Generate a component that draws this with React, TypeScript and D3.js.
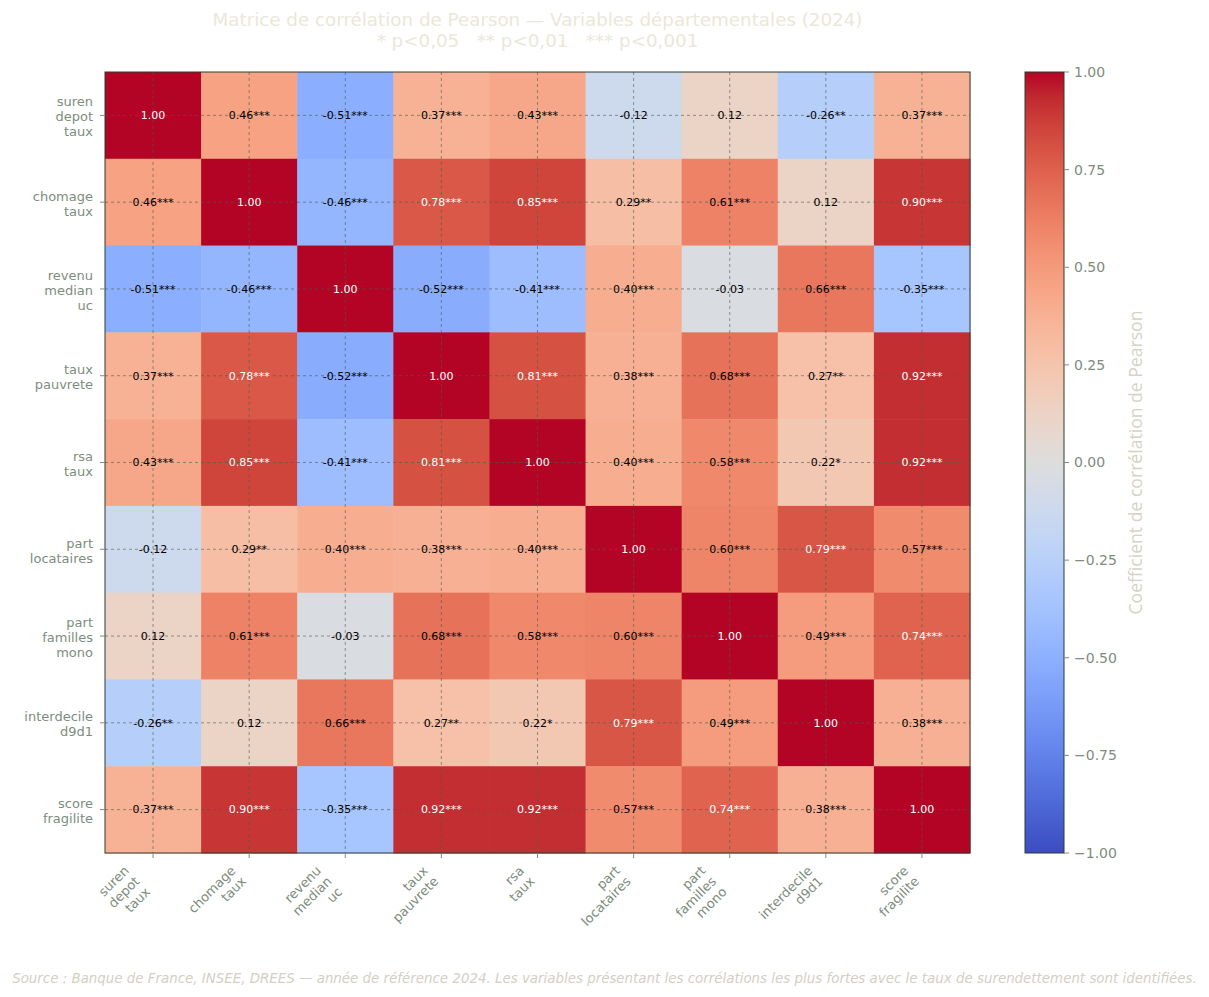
import React from "react";
import * as d3 from "d3";

const variables = [
  "suren\ndepot\ntaux",
  "chomage\ntaux",
  "revenu\nmedian\nuc",
  "taux\npauvrete",
  "rsa\ntaux",
  "part\nlocataires",
  "part\nfamilles\nmono",
  "interdecile\nd9d1",
  "score\nfragilite",
];

const corrValues: number[][] = [
  [1.0, 0.46, -0.51, 0.37, 0.43, -0.12, 0.12, -0.26, 0.37],
  [0.46, 1.0, -0.46, 0.78, 0.85, 0.29, 0.61, 0.12, 0.9],
  [-0.51, -0.46, 1.0, -0.52, -0.41, 0.4, -0.03, 0.66, -0.35],
  [0.37, 0.78, -0.52, 1.0, 0.81, 0.38, 0.68, 0.27, 0.92],
  [0.43, 0.85, -0.41, 0.81, 1.0, 0.4, 0.58, 0.22, 0.92],
  [-0.12, 0.29, 0.4, 0.38, 0.4, 1.0, 0.6, 0.79, 0.57],
  [0.12, 0.61, -0.03, 0.68, 0.58, 0.6, 1.0, 0.49, 0.74],
  [-0.26, 0.12, 0.66, 0.27, 0.22, 0.79, 0.49, 1.0, 0.38],
  [0.37, 0.9, -0.35, 0.92, 0.92, 0.57, 0.74, 0.38, 1.0],
];

const significance: string[][] = [
  ["", "***", "***", "***", "***", "", "", "**", "***"],
  ["***", "", "***", "***", "***", "**", "***", "", "***"],
  ["***", "***", "", "***", "***", "***", "", "***", "***"],
  ["***", "***", "***", "", "***", "***", "***", "**", "***"],
  ["***", "***", "***", "***", "", "***", "***", "*", "***"],
  ["", "**", "***", "***", "***", "", "***", "***", "***"],
  ["", "***", "", "***", "***", "***", "", "***", "***"],
  ["**", "", "***", "**", "*", "***", "***", "", "***"],
  ["***", "***", "***", "***", "***", "***", "***", "***", ""],
];

const colorbarTicks = [-1, -0.75, -0.5, -0.25, 0, 0.25, 0.5, 0.75, 1];

const titleLines = [
  "Matrice de corrélation de Pearson — Variables départementales (2024)",
  "* p<0,05   ** p<0,01   *** p<0,001",
];
const colorbarLabel = "Coefficient de corrélation de Pearson";
const footer =
  "Source : Banque de France, INSEE, DREES — année de référence 2024. Les variables présentant les corrélations les plus fortes avec le taux de surendettement sont identifiées.";

// Moreland coolwarm table (matplotlib coolwarm)
const coolwarmStops: [number, number, number][] = [
  [59, 76, 192], [68, 90, 204], [77, 104, 215], [87, 117, 225], [98, 130, 234],
  [108, 142, 241], [119, 154, 247], [130, 165, 251], [141, 176, 254], [152, 185, 255],
  [163, 194, 255], [174, 201, 253], [184, 208, 249], [194, 213, 244], [204, 217, 238],
  [213, 219, 230], [221, 221, 221], [229, 216, 209], [236, 211, 197], [241, 204, 184],
  [245, 196, 172], [247, 187, 160], [247, 177, 148], [247, 166, 135], [244, 154, 123],
  [241, 141, 111], [236, 127, 99], [229, 112, 88], [222, 96, 77], [213, 80, 66],
  [203, 62, 56], [192, 40, 47], [180, 4, 38],
];
const coolwarmInterp = d3.piecewise(
  d3.interpolateRgb,
  coolwarmStops.map((c) => d3.rgb(c[0], c[1], c[2]).toString())
);
const color = d3.scaleSequential(coolwarmInterp).domain([-1, 1]);

const W = 1209;
const H = 997;
const plot = { x0: 105, x1: 970, y0: 72, y1: 853 };
const cbar = { x0: 1025, x1: 1064 };

const spineColor = "#2f3d2f";
const tickColor = "#7d8d7d";
const gridColor = "#4d5d4d";
const font = "DejaVu Sans, sans-serif";

export default function App() {
  const idx = variables.map((_, i) => String(i));
  const x = d3.scaleBand().domain(idx).range([plot.x0, plot.x1]);
  const y = d3.scaleBand().domain(idx).range([plot.y0, plot.y1]);
  const cy = d3.scaleLinear().domain([-1, 1]).range([plot.y1, plot.y0]);
  const bw = x.bandwidth();
  const bh = y.bandwidth();

  const gradStops = d3.range(0, 1.0001, 1 / 32);

  const lh = 15;
  const fs = 13;
  const asc = 12;
  const desc = 3;
  const s = Math.SQRT1_2;

  return (
    <svg width={W} height={H} style={{ display: "block", position: "absolute", left: 0, top: 0 }} fontFamily={font}>
      <defs>
        <linearGradient id="cw" x1="0" y1="1" x2="0" y2="0">
          {gradStops.map((t, i) => (
            <stop key={i} offset={t} stopColor={coolwarmInterp(t)} />
          ))}
        </linearGradient>
      </defs>
      <rect width={W} height={H} fill="#ffffff" />
      {/* title */}
      {titleLines.map((t, i) => (
        <text
          key={i}
          x={(plot.x0 + plot.x1) / 2}
          y={26 + i * 21}
          textAnchor="middle"
          fontSize={18.3}
          fill="#ebe7d9"
          style={{ whiteSpace: "pre" }}
        >
          {t}
        </text>
      ))}
      {/* cells */}
      {corrValues.map((row, i) =>
        row.map((v, j) => (
          <rect key={`c${i}-${j}`} x={x(String(j))} y={y(String(i))} width={bw + 0.5} height={bh + 0.5} fill={color(v)} />
        ))
      )}
      {/* grid */}
      {idx.map((k) => (
        <line key={`gx${k}`} x1={x(k)! + bw / 2} x2={x(k)! + bw / 2} y1={plot.y0} y2={plot.y1} stroke={gridColor} strokeOpacity={0.75} strokeWidth={0.8} strokeDasharray="3,3" />
      ))}
      {idx.map((k) => (
        <line key={`gy${k}`} y1={y(k)! + bh / 2} y2={y(k)! + bh / 2} x1={plot.x0} x2={plot.x1} stroke={gridColor} strokeOpacity={0.75} strokeWidth={0.8} strokeDasharray="3,3" />
      ))}
      {/* annotations */}
      {corrValues.map((row, i) =>
        row.map((v, j) => (
          <text
            key={`t${i}-${j}`}
            x={x(String(j))! + bw / 2}
            y={y(String(i))! + bh / 2}
            dy="0.35em"
            textAnchor="middle"
            fontSize={11}
            fill={Math.abs(v) > 0.7 ? "#ffffff" : "#000000"}
          >
            {v.toFixed(2) + significance[i][j]}
          </text>
        ))
      )}
      {/* spines */}
      <rect x={plot.x0} y={plot.y0} width={plot.x1 - plot.x0} height={plot.y1 - plot.y0} fill="none" stroke={spineColor} strokeWidth={1} />
      {/* left ticks & labels */}
      {idx.map((k, i) => {
        const yc = y(k)! + bh / 2;
        const lines = variables[i].split("\n");
        const n = lines.length;
        return (
          <g key={`yl${k}`}>
            <line x1={plot.x0 - 5} x2={plot.x0} y1={yc} y2={yc} stroke={tickColor} strokeWidth={1} />
            {lines.map((l, li) => (
              <text key={li} x={93} y={yc + 1.5 + (li - (n - 1) / 2) * lh} dy="0.35em" textAnchor="end" fontSize={fs} fill={tickColor}>
                {l}
              </text>
            ))}
          </g>
        );
      })}
      {/* bottom ticks & labels */}
      {idx.map((k, i) => {
        const xc = x(k)! + bw / 2;
        const lines = variables[i].split("\n");
        const n = lines.length;
        const tx = xc - s * ((n - 1) * lh + desc);
        const ty = plot.y1 + 10 + s * asc;
        return (
          <g key={`xl${k}`}>
            <line x1={xc} x2={xc} y1={plot.y1} y2={plot.y1 + 5} stroke={tickColor} strokeWidth={1} />
            <g transform={`translate(${tx},${ty}) rotate(-45)`}>
              {lines.map((l, li) => (
                <text key={li} x={0} y={li * lh} textAnchor="end" fontSize={fs} fill={tickColor}>
                  {l}
                </text>
              ))}
            </g>
          </g>
        );
      })}
      {/* colorbar */}
      <rect x={cbar.x0} y={plot.y0} width={cbar.x1 - cbar.x0} height={plot.y1 - plot.y0} fill="url(#cw)" stroke={spineColor} strokeWidth={1} />
      {colorbarTicks.map((t) => (
        <g key={`cb${t}`}>
          <line x1={cbar.x1} x2={cbar.x1 + 5} y1={cy(t)} y2={cy(t)} stroke={tickColor} strokeWidth={1} />
          <text x={cbar.x1 + 10} y={cy(t)} dy="0.35em" fontSize={14} fill={tickColor}>
            {d3.format(".2f")(t).replace("-", "\u2212")}
          </text>
        </g>
      ))}
      <text
        transform={`translate(1142,${(plot.y0 + plot.y1) / 2}) rotate(-90)`}
        textAnchor="middle"
        fontSize={17.6}
        fontFamily="Open Sans, sans-serif"
        fill="#d6d2c6"
      >
        {colorbarLabel}
      </text>
      {/* footer */}
      <text x={W / 2} y={983} textAnchor="middle" fontSize={13.4} fontStyle="italic" fill="#d3cfc3">
        {footer}
      </text>
    </svg>
  );
}
